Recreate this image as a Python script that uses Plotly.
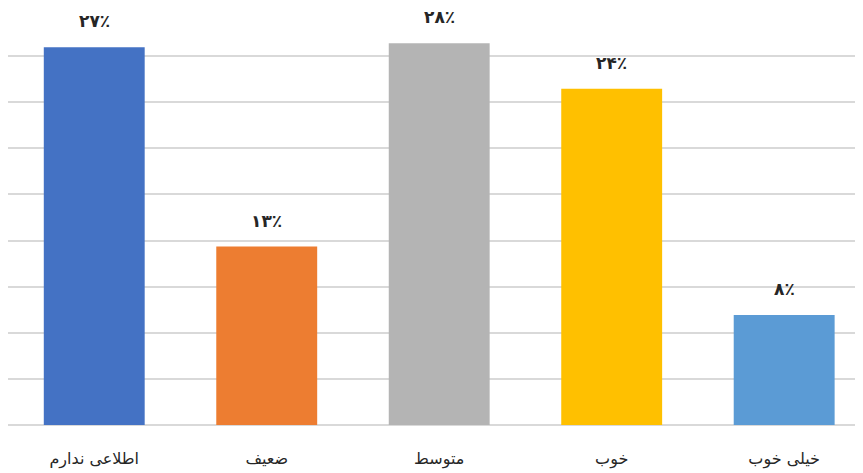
import plotly.graph_objects as go

categories = ["اطلاعی ندارم", "ضعیف", "متوسط", "خوب", "خیلی خوب"]
values = [27.3, 12.9, 27.6, 24.3, 7.95]
value_labels = ["۲۷٪", "۱۳٪", "۲۸٪", "۲۴٪", "۸٪"]
colors = ["#4472C4", "#ED7D31", "#B4B4B4", "#FFC000", "#5B9BD5"]

fig = go.Figure()
fig.add_trace(go.Bar(
    x=categories, y=values,
    marker=dict(color=colors, line=dict(width=0)),
    width=0.585,
    hoverinfo="skip",
))

for c, v, t in zip(categories, values, value_labels):
    fig.add_annotation(
        x=c, y=v, text="<b>" + t + "</b>", showarrow=False,
        yanchor="bottom", yshift=14,
        font=dict(size=17, color="#262626", family="DejaVu Sans"),
    )

fig.update_layout(
    width=863, height=473,
    margin=dict(l=0, r=8, t=2, b=56, autoexpand=False),
    paper_bgcolor="white", plot_bgcolor="white",
    showlegend=False,
    xaxis=dict(
        type="category", range=[-0.5, 4.457],
        showgrid=False, showline=False, ticks="",
        ticklabelstandoff=22,
        tickfont=dict(size=16, color="#262626", family="DejaVu Sans"),
    ),
    yaxis=dict(
        range=[0, 30], tick0=0, dtick=10/3,
        showgrid=True, gridcolor="#D9D9D9", gridwidth=1.5,
        zeroline=True, zerolinecolor="#D9D9D9", zerolinewidth=1.5,
        showticklabels=False, ticks="",
    ),
)

fig.write_html("out.html")
